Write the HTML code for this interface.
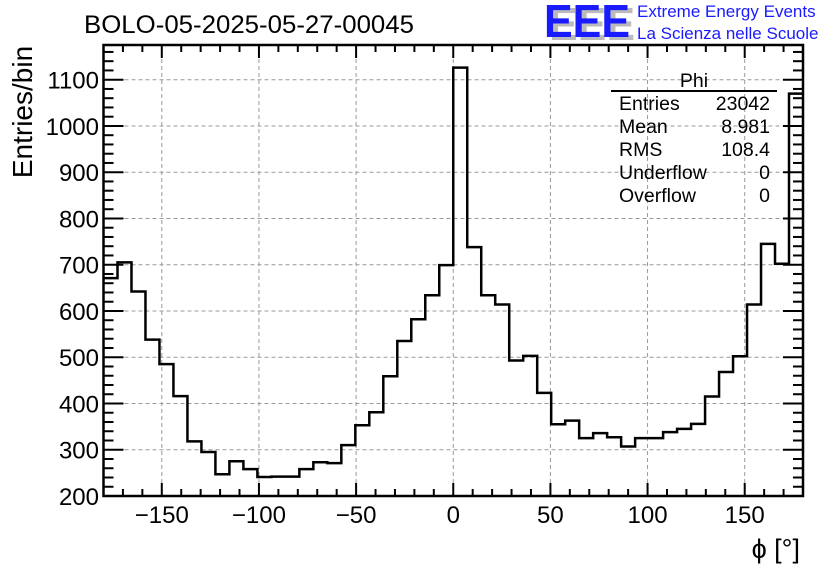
<!DOCTYPE html>
<html><head><meta charset="utf-8"><style>
html,body{margin:0;padding:0;background:#fff}
svg{display:block;font-family:"Liberation Sans",sans-serif}
</style></head><body>
<svg id="chart" width="836" height="572" viewBox="0 0 836 572" xmlns="http://www.w3.org/2000/svg">
<rect width="836" height="572" fill="#fff"/>
<g id="grid"></g>
<g id="hist"></g>
<g id="axes"></g>
<text x="84" y="33" font-size="25" textLength="330" lengthAdjust="spacingAndGlyphs">BOLO-05-2025-05-27-00045</text>
<text transform="translate(32,112) rotate(-90)" text-anchor="middle" font-size="28">Entries/bin</text>
<text x="800" y="558" text-anchor="end" font-size="27">ϕ [°]</text>
<g>
<text x="549" y="40" font-size="46" font-weight="bold" fill="#bbb" textLength="86" lengthAdjust="spacingAndGlyphs">EEE</text>
<text x="544" y="37" font-size="46" font-weight="bold" fill="#1a1aff" textLength="86" lengthAdjust="spacingAndGlyphs">EEE</text>
<text x="637" y="17" font-size="17" fill="#1a1aff">Extreme Energy Events</text>
<text x="637" y="39" font-size="17" fill="#1a1aff">La Scienza nelle Scuole</text>
</g>
<g font-size="19.5">
<text x="694" y="87" text-anchor="middle">Phi</text>
<line x1="611" y1="91" x2="777" y2="91" stroke="#000" stroke-width="2"/>
<text x="619" y="110">Entries</text><text x="770" y="110" text-anchor="end">23042</text>
<text x="619" y="133">Mean</text><text x="770" y="133" text-anchor="end">8.981</text>
<text x="619" y="156">RMS</text><text x="770" y="156" text-anchor="end">108.4</text>
<text x="619" y="179">Underflow</text><text x="770" y="179" text-anchor="end">0</text>
<text x="619" y="202">Overflow</text><text x="770" y="202" text-anchor="end">0</text>
</g>
</svg>
<script>
const binEdgesStart = -180;
const binWidth = 7.2;
const counts = [671,705,642,538,485,416,318,295,247,275,258,241,242,242,258,273,271,310,353,381,459,535,582,634,699,
1126,738,634,614,493,503,423,355,363,325,336,327,307,325,325,338,345,356,415,468,502,614,745,702,1070];
const xTicks = [-150,-100,-50,0,50,100,150];
const xTickLabels = ["\u2212150","\u2212100","\u221250","0","50","100","150"];
const yTicks = [200,300,400,500,600,700,800,900,1000,1100];
const yTickLabels = ["200","300","400","500","600","700","800","900","1000","1100"];

const L=103.5,R=803,T=45,B=496;
const xMin=-180,xMax=180,yMin=200,yMax=1175;
const X=v=>L+(v-xMin)/(xMax-xMin)*(R-L);
const Y=v=>B-(v-yMin)/(yMax-yMin)*(B-T);
const NS="http://www.w3.org/2000/svg";
function mk(tag,attrs,parent){const e=document.createElementNS(NS,tag);for(const k in attrs)e.setAttribute(k,attrs[k]);parent.appendChild(e);return e;}
const grid=document.getElementById('grid'),hist=document.getElementById('hist'),axes=document.getElementById('axes');

xTicks.forEach(v=>{const l=mk('line',{x1:X(v),x2:X(v),y1:T,y2:B,stroke:'#999','stroke-width':1,'stroke-dasharray':'4,3'},grid);

});
yTicks.forEach(v=>{const l=mk('line',{x1:L,x2:R,y1:Y(v),y2:Y(v),stroke:'#999','stroke-width':1,'stroke-dasharray':'4,3'},grid);

});

let d='M'+X(binEdgesStart)+','+Y(counts[0]);
counts.forEach((c,i)=>{const x0=X(binEdgesStart+i*binWidth),x1=X(binEdgesStart+(i+1)*binWidth);d+=' L'+x0+','+Y(c)+' L'+x1+','+Y(c);});
const p=mk('path',{d:d,fill:'none',stroke:'#000','stroke-width':2.5},hist);



const fr=mk('rect',{x:L,y:T,width:R-L,height:B-T,fill:'none',stroke:'#000','stroke-width':2.5},axes);


for(let v=-180;v<=180;v+=10){const maj=v%50===0;const len=maj?13:7;
mk('line',{x1:X(v),x2:X(v),y1:B,y2:B-len,stroke:'#000','stroke-width':2},axes);
mk('line',{x1:X(v),x2:X(v),y1:T,y2:T+len,stroke:'#000','stroke-width':2},axes);}
for(let v=200;v<=1175;v+=20){const maj=v%100===0;const len=maj?20:10;
mk('line',{x1:L,x2:L+len,y1:Y(v),y2:Y(v),stroke:'#000','stroke-width':2},axes);
mk('line',{x1:R,x2:R-len,y1:Y(v),y2:Y(v),stroke:'#000','stroke-width':2},axes);}
xTicks.forEach((v,i)=>{const t=mk('text',{x:X(v),y:523,'text-anchor':'middle','font-size':24},axes);t.textContent=xTickLabels[i];

});
yTicks.forEach((v,i)=>{const t=mk('text',{x:99,y:Y(v)+9,'text-anchor':'end','font-size':24},axes);t.textContent=yTickLabels[i];

});
</script>
</body></html>
